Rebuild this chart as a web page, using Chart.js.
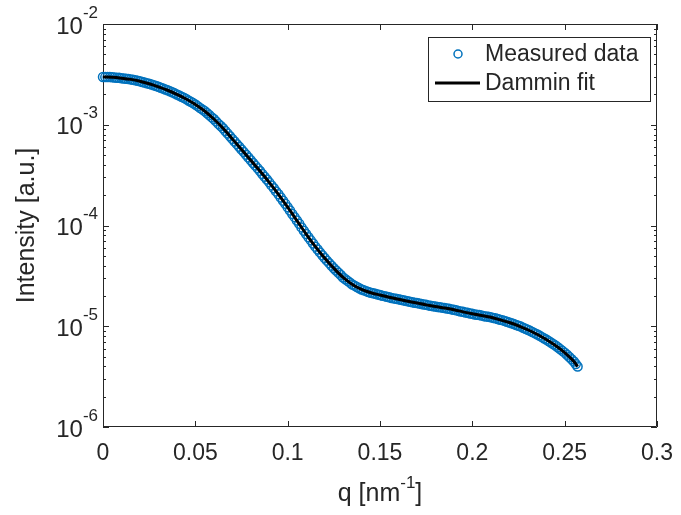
<!DOCTYPE html>
<html>
<head>
<meta charset="utf-8">
<script src="https://cdn.jsdelivr.net/npm/chart.js@4.4.1/dist/chart.umd.min.js"></script>
<style>
  html, body { margin: 0; padding: 0; background: #fff; }
  #wrap { width: 681px; height: 515px; }
</style>
</head>
<body>
<div id="wrap"><canvas id="saxs" width="681" height="515"></canvas></div>
<script>
/* ---------- DATA ---------- */
const seriesNames = ["Measured data", "Dammin fit"];

const qMeasured = [
  0, 0.00125, 0.0025, 0.00375, 0.005, 0.00625, 0.0075, 0.00875, 0.01, 0.01125,
  0.0125, 0.01375, 0.015, 0.01625, 0.0175, 0.01875, 0.02, 0.02125, 0.0225, 0.02375,
  0.025, 0.02625, 0.0275, 0.02875, 0.03, 0.03125, 0.0325, 0.03375, 0.035, 0.03625,
  0.0375, 0.03875, 0.04, 0.04125, 0.0425, 0.04375, 0.045, 0.04625, 0.0475, 0.04875,
  0.05, 0.05125, 0.0525, 0.05375, 0.055, 0.05625, 0.0575, 0.05875, 0.06, 0.06125,
  0.0625, 0.06375, 0.065, 0.06625, 0.0675, 0.06875, 0.07, 0.07125, 0.0725, 0.07375,
  0.075, 0.07625, 0.0775, 0.07875, 0.08, 0.08125, 0.0825, 0.08375, 0.085, 0.08625,
  0.0875, 0.08875, 0.09, 0.09125, 0.0925, 0.09375, 0.095, 0.09625, 0.0975, 0.09875,
  0.1, 0.10125, 0.1025, 0.10375, 0.105, 0.10625, 0.1075, 0.10875, 0.11, 0.11125,
  0.1125, 0.11375, 0.115, 0.11625, 0.1175, 0.11875, 0.12, 0.12125, 0.1225, 0.12375,
  0.125, 0.12625, 0.1275, 0.12875, 0.13, 0.13125, 0.1325, 0.13375, 0.135, 0.13625,
  0.1375, 0.13875, 0.14, 0.14125, 0.1425, 0.14375, 0.145, 0.14625, 0.1475, 0.14875,
  0.15, 0.15125, 0.1525, 0.15375, 0.155, 0.15625, 0.1575, 0.15875, 0.16, 0.16125,
  0.1625, 0.16375, 0.165, 0.16625, 0.1675, 0.16875, 0.17, 0.17125, 0.1725, 0.17375,
  0.175, 0.17625, 0.1775, 0.17875, 0.18, 0.18125, 0.1825, 0.18375, 0.185, 0.18625,
  0.1875, 0.18875, 0.19, 0.19125, 0.1925, 0.19375, 0.195, 0.19625, 0.1975, 0.19875,
  0.2, 0.20125, 0.2025, 0.20375, 0.205, 0.20625, 0.2075, 0.20875, 0.21, 0.21125,
  0.2125, 0.21375, 0.215, 0.21625, 0.2175, 0.21875, 0.22, 0.22125, 0.2225, 0.22375,
  0.225, 0.22625, 0.2275, 0.22875, 0.23, 0.23125, 0.2325, 0.23375, 0.235, 0.23625,
  0.2375, 0.23875, 0.24, 0.24125, 0.2425, 0.24375, 0.245, 0.24625, 0.2475, 0.24875,
  0.25, 0.25125, 0.2525, 0.25375, 0.255, 0.256, 0.257
];
const iMeasured = [
  2.98e-3, 2.97e-3, 2.97e-3, 2.97e-3, 2.96e-3, 2.94e-3, 2.93e-3, 2.92e-3, 2.90e-3, 2.88e-3,
  2.86e-3, 2.84e-3, 2.82e-3, 2.79e-3, 2.76e-3, 2.73e-3, 2.70e-3, 2.66e-3, 2.62e-3, 2.58e-3,
  2.55e-3, 2.51e-3, 2.47e-3, 2.42e-3, 2.38e-3, 2.33e-3, 2.29e-3, 2.24e-3, 2.20e-3, 2.15e-3,
  2.10e-3, 2.05e-3, 2.00e-3, 1.95e-3, 1.90e-3, 1.85e-3, 1.80e-3, 1.74e-3, 1.69e-3, 1.64e-3,
  1.59e-3, 1.53e-3, 1.47e-3, 1.42e-3, 1.37e-3, 1.31e-3, 1.25e-3, 1.19e-3, 1.14e-3, 1.08e-3,
  1.02e-3, 9.70e-4, 9.23e-4, 8.68e-4, 8.17e-4, 7.69e-4, 7.24e-4, 6.82e-4, 6.42e-4, 6.04e-4,
  5.69e-4, 5.35e-4, 5.03e-4, 4.73e-4, 4.45e-4, 4.18e-4, 3.93e-4, 3.69e-4, 3.47e-4, 3.25e-4,
  3.05e-4, 2.86e-4, 2.68e-4, 2.50e-4, 2.34e-4, 2.18e-4, 2.04e-4, 1.90e-4, 1.76e-4, 1.64e-4,
  1.52e-4, 1.41e-4, 1.30e-4, 1.21e-4, 1.12e-4, 1.04e-4, 9.58e-5, 8.87e-5, 8.22e-5, 7.66e-5,
  7.12e-5, 6.62e-5, 6.17e-5, 5.78e-5, 5.41e-5, 5.07e-5, 4.75e-5, 4.48e-5, 4.23e-5, 3.99e-5,
  3.76e-5, 3.57e-5, 3.39e-5, 3.22e-5, 3.05e-5, 2.93e-5, 2.82e-5, 2.71e-5, 2.60e-5, 2.53e-5,
  2.45e-5, 2.38e-5, 2.32e-5, 2.28e-5, 2.23e-5, 2.19e-5, 2.15e-5, 2.12e-5, 2.10e-5, 2.07e-5,
  2.04e-5, 2.01e-5, 1.99e-5, 1.96e-5, 1.94e-5, 1.91e-5, 1.89e-5, 1.87e-5, 1.85e-5, 1.83e-5,
  1.81e-5, 1.79e-5, 1.77e-5, 1.75e-5, 1.73e-5, 1.71e-5, 1.70e-5, 1.68e-5, 1.66e-5, 1.64e-5,
  1.63e-5, 1.61e-5, 1.60e-5, 1.58e-5, 1.57e-5, 1.55e-5, 1.54e-5, 1.53e-5, 1.52e-5, 1.50e-5,
  1.49e-5, 1.47e-5, 1.46e-5, 1.44e-5, 1.42e-5, 1.40e-5, 1.39e-5, 1.37e-5, 1.36e-5, 1.34e-5,
  1.33e-5, 1.31e-5, 1.30e-5, 1.29e-5, 1.28e-5, 1.26e-5, 1.25e-5, 1.24e-5, 1.23e-5, 1.21e-5,
  1.20e-5, 1.18e-5, 1.16e-5, 1.15e-5, 1.13e-5, 1.11e-5, 1.09e-5, 1.07e-5, 1.05e-5, 1.03e-5,
  1.01e-5, 9.92e-6, 9.66e-6, 9.45e-6, 9.23e-6, 9.00e-6, 8.76e-6, 8.54e-6, 8.32e-6, 8.08e-6,
  7.84e-6, 7.61e-6, 7.38e-6, 7.14e-6, 6.89e-6, 6.66e-6, 6.43e-6, 6.19e-6, 5.93e-6, 5.70e-6,
  5.47e-6, 5.21e-6, 4.95e-6, 4.71e-6, 4.47e-6, 4.22e-6, 3.98e-6
];

const qFit = [
  0, 0.005, 0.01, 0.015, 0.02, 0.025, 0.03, 0.035, 0.04, 0.045,
  0.05, 0.055, 0.06, 0.065, 0.07, 0.075, 0.08, 0.085, 0.09, 0.095,
  0.1, 0.105, 0.11, 0.115, 0.12, 0.125, 0.13, 0.135, 0.14, 0.145,
  0.15, 0.155, 0.16, 0.165, 0.17, 0.175, 0.18, 0.185, 0.19, 0.195,
  0.2, 0.205, 0.21, 0.215, 0.22, 0.225, 0.23, 0.235, 0.24, 0.245,
  0.25, 0.255, 0.257
];
const iFit = [
  2.98e-3, 2.96e-3, 2.90e-3, 2.82e-3, 2.70e-3, 2.55e-3, 2.38e-3, 2.20e-3, 2.00e-3, 1.80e-3,
  1.59e-3, 1.37e-3, 1.14e-3, 9.23e-4, 7.24e-4, 5.69e-4, 4.45e-4, 3.47e-4, 2.68e-4, 2.04e-4,
  1.52e-4, 1.12e-4, 8.22e-5, 6.17e-5, 4.75e-5, 3.76e-5, 3.05e-5, 2.60e-5, 2.32e-5, 2.15e-5,
  2.04e-5, 1.94e-5, 1.85e-5, 1.77e-5, 1.70e-5, 1.63e-5, 1.57e-5, 1.52e-5, 1.46e-5, 1.39e-5,
  1.33e-5, 1.28e-5, 1.23e-5, 1.16e-5, 1.09e-5, 1.01e-5, 9.23e-6, 8.32e-6, 7.38e-6, 6.43e-6,
  5.47e-6, 4.47e-6, 3.98e-6
];

const xTickValues = [0, 0.05, 0.1, 0.15, 0.2, 0.25, 0.3];
const xTickLabels = ["0", "0.05", "0.1", "0.15", "0.2", "0.25", "0.3"];
const yTickExponents = [-6, -5, -4, -3, -2];

/* ---------- STYLE ---------- */
const axisColor = "#262626";
const blue = "#0072BD";
const family = "'Liberation Sans', Arial, sans-serif";

/* ---------- MATLAB-LIKE AXES ---------- */
const matlabAxes = {
  id: "matlabAxes",
  beforeDatasetsDraw(chart) {
    const { ctx, chartArea: a, scales: { x, y } } = chart;
    ctx.save();
    ctx.strokeStyle = axisColor;
    ctx.lineWidth = 1;
    ctx.beginPath();
    ctx.rect(a.left + 0.5, a.top + 0.5, a.right - a.left - 1, a.bottom - a.top - 1);

    xTickValues.forEach(v => {
      const px = Math.round(x.getPixelForValue(v)) + 0.5;
      ctx.moveTo(px, a.bottom); ctx.lineTo(px, a.bottom - 6);
      ctx.moveTo(px, a.top); ctx.lineTo(px, a.top + 6);
    });

    yTickExponents.forEach(e => {
      const last = e === yTickExponents[yTickExponents.length - 1] ? 1 : 9;
      for (let m = 1; m <= last; m++) {
        const py = Math.round(y.getPixelForValue(m * Math.pow(10, e))) + 0.5;
        const len = m === 1 ? 6 : 3;
        ctx.moveTo(a.left, py); ctx.lineTo(a.left + len, py);
        ctx.moveTo(a.right, py); ctx.lineTo(a.right - len, py);
      }
    });
    ctx.stroke();
    ctx.restore();
  },
  afterDraw(chart) {
    const { ctx, chartArea: a, scales: { x, y } } = chart;
    ctx.save();
    ctx.fillStyle = axisColor;

    // x tick labels
    ctx.font = "23px " + family;
    ctx.textAlign = "center";
    ctx.textBaseline = "middle";
    xTickValues.forEach((v, i) => {
      ctx.fillText(xTickLabels[i], x.getPixelForValue(v), a.bottom + 27);
    });

    // y tick labels: 10^e
    yTickExponents.forEach(e => {
      const py = y.getPixelForValue(Math.pow(10, e));
      const exp = String(e);
      ctx.font = "17px " + family;
      const expW = ctx.measureText(exp).width;
      const right = a.left - 5;
      ctx.textAlign = "left";
      ctx.textBaseline = "middle";
      ctx.fillText(exp, right - expW, py - 11);
      ctx.font = "24px " + family;
      ctx.textAlign = "right";
      ctx.fillText("10", right - expW, py + 3);
    });

    // x axis title: q [nm^-1]
    const xt1 = "q [nm", xt2 = "-1", xt3 = "]";
    ctx.font = "25px " + family;
    const w1 = ctx.measureText(xt1).width;
    const w3 = ctx.measureText(xt3).width;
    ctx.font = "17px " + family;
    const w2 = ctx.measureText(xt2).width;
    const cx = (a.left + a.right) / 2;
    const sx = cx - (w1 + w2 + w3) / 2;
    const ty = 494;
    ctx.textAlign = "left";
    ctx.textBaseline = "middle";
    ctx.font = "25px " + family;
    ctx.fillText(xt1, sx, ty);
    ctx.font = "17px " + family;
    ctx.fillText(xt2, sx + w1, ty - 11);
    ctx.font = "25px " + family;
    ctx.fillText(xt3, sx + w1 + w2, ty);

    // y axis title
    ctx.save();
    ctx.translate(27, (a.top + a.bottom) / 2);
    ctx.rotate(-Math.PI / 2);
    ctx.textAlign = "center";
    ctx.textBaseline = "middle";
    ctx.font = "25px " + family;
    ctx.fillText("Intensity [a.u.]", 0, 0);
    ctx.restore();

    // legend box
    const lx = 428, ly = 37, lw = 222, lh = 64;
    ctx.fillStyle = "#fff";
    ctx.fillRect(lx, ly, lw, lh);
    ctx.strokeStyle = axisColor;
    ctx.lineWidth = 1;
    ctx.strokeRect(lx + 0.5, ly + 0.5, lw, lh);

    ctx.strokeStyle = blue;
    ctx.lineWidth = 1.5;
    ctx.beginPath();
    ctx.arc(458, 54, 4, 0, Math.PI * 2);
    ctx.stroke();

    ctx.strokeStyle = "#000";
    ctx.lineWidth = 3;
    ctx.beginPath();
    ctx.moveTo(435, 83); ctx.lineTo(480, 83);
    ctx.stroke();

    ctx.fillStyle = axisColor;
    ctx.font = "23px " + family;
    ctx.textAlign = "left";
    ctx.textBaseline = "middle";
    ctx.fillText(seriesNames[0], 485, 55);
    ctx.fillText(seriesNames[1], 485, 84);
    ctx.restore();
  }
};

/* ---------- CHART ---------- */
const measuredPoints = qMeasured.map((q, i) => ({ x: q, y: iMeasured[i] }));
const fitPoints = qFit.map((q, i) => ({ x: q, y: iFit[i] }));

new Chart(document.getElementById("saxs"), {
  type: "scatter",
  data: {
    datasets: [
      {
        label: seriesNames[0],
        data: measuredPoints,
        showLine: false,
        pointStyle: "circle",
        pointRadius: 4.5,
        pointBorderWidth: 1.5,
        pointBorderColor: blue,
        pointBackgroundColor: "rgba(0,0,0,0)",
        clip: false,
        order: 2
      },
      {
        label: seriesNames[1],
        data: fitPoints,
        showLine: true,
        pointRadius: 0,
        borderColor: "#000",
        borderWidth: 3,
        cubicInterpolationMode: "monotone",
        order: 1
      }
    ]
  },
  options: {
    responsive: false,
    animation: false,
    layout: { padding: { left: 103, top: 24, right: 24, bottom: 88 } },
    plugins: { legend: { display: false }, tooltip: { enabled: false } },
    scales: {
      x: { type: "linear", min: 0, max: 0.3, display: false },
      y: { type: "logarithmic", min: 1e-6, max: 1e-2, display: false }
    }
  },
  plugins: [matlabAxes]
});
</script>
</body>
</html>
